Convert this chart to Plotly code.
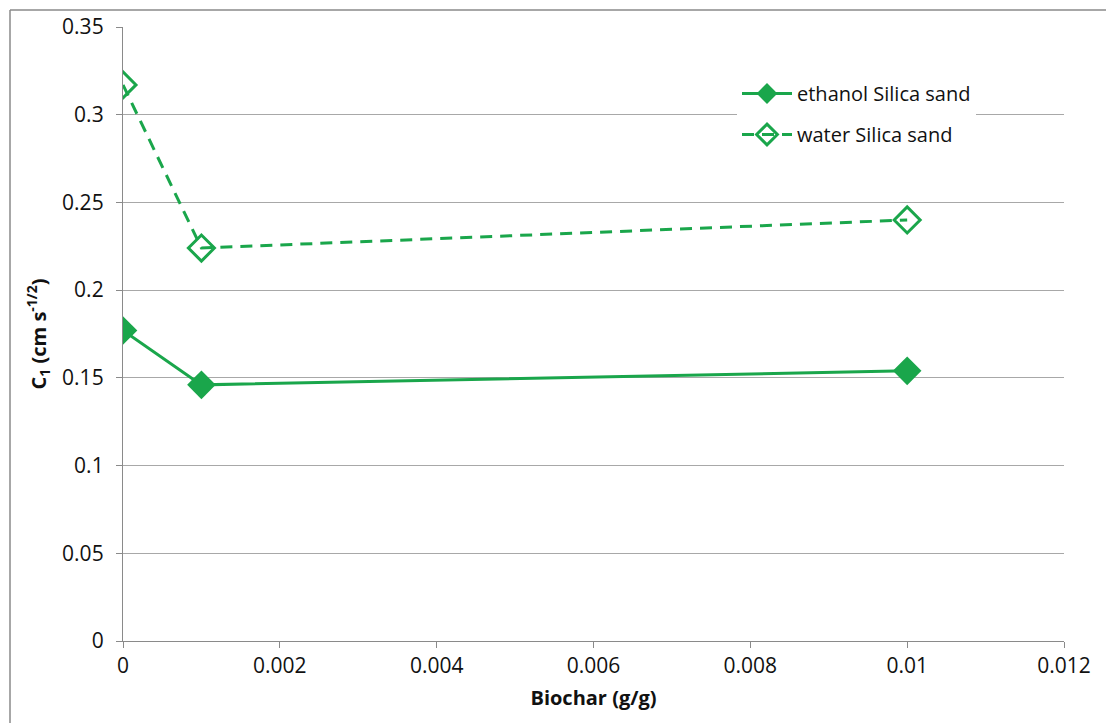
import plotly.graph_objects as go

# Data
biochar = [0, 0.001, 0.01]
ethanol_c1 = [0.177, 0.146, 0.154]
water_c1 = [0.317, 0.224, 0.240]

x_tickvals = [0, 0.002, 0.004, 0.006, 0.008, 0.01, 0.012]
x_ticktext = ["0", "0.002", "0.004", "0.006", "0.008", "0.01", "0.012"]
y_tickvals = [0, 0.05, 0.1, 0.15, 0.2, 0.25, 0.3, 0.35]
y_ticktext = ["0", "0.05", "0.1", "0.15", "0.2", "0.25", "0.3", "0.35"]

GREEN = "#1aa64b"
AXIS = "#8a8a8a"
GRID = "#a8a8a8"
FONT = "Open Sans, Lato, sans-serif"
TXT = "#111111"

fig = go.Figure()
fig.add_trace(go.Scatter(
    x=biochar, y=ethanol_c1, name="ethanol Silica sand",
    mode="lines+markers", legendgroup="a",
    line=dict(color=GREEN, width=3),
    marker=dict(symbol="diamond", size=22, color=GREEN, line=dict(width=0)),
))
fig.add_trace(go.Scatter(
    x=biochar, y=water_c1, name="water Silica sand",
    mode="lines+markers", legendgroup="b",
    line=dict(color=GREEN, width=3, dash="12px,8px"),
    marker=dict(symbol="diamond-open", size=20, color=GREEN, line=dict(width=3, color=GREEN)),
))

W, H = 1106, 723
L, R, T, B = 123, 42, 27, 82
pw, ph = W - L - R, H - T - B

def px(xpix):
    return (xpix - L) / pw

def py(ypix):
    return (H - B - ypix) / ph

fig.update_layout(
    width=W, height=H,
    margin=dict(l=L, r=R, t=T, b=B),
    paper_bgcolor="white", plot_bgcolor="white",
    font=dict(family=FONT, size=21, color=TXT),
    showlegend=True,
    legend=dict(
        x=px(737), y=py(74), xanchor="left", yanchor="top",
        bgcolor="white", font=dict(size=20, color=TXT),
        tracegroupgap=12, itemwidth=50,
    ),
    xaxis=dict(
        range=[0, 0.012], tickvals=x_tickvals, ticktext=x_ticktext,
        showgrid=False, zeroline=False,
        showline=True, linecolor=AXIS, linewidth=1.3,
        ticks="outside", ticklen=6, tickcolor=AXIS, tickwidth=1.3,
        tickfont=dict(size=21, family=FONT, color=TXT),
        title=dict(text="<b>Biochar (g/g)</b>", font=dict(size=20, family=FONT, color=TXT), standoff=12),
    ),
    yaxis=dict(
        range=[0, 0.35], tickvals=y_tickvals, ticktext=y_ticktext,
        showgrid=True, gridcolor=GRID, gridwidth=1.3, zeroline=False,
        showline=True, linecolor=AXIS, linewidth=1.3,
        ticks="outside", ticklen=6, tickcolor=AXIS, tickwidth=1.3,
        ticklabelstandoff=8,
        tickfont=dict(size=21, family=FONT, color=TXT),
        title=dict(text="<b>C<sub>1</sub> (cm s<sup>-1/2</sup>)</b>", font=dict(size=20, family=FONT, color=TXT), standoff=10),
    ),
)

# outer chart border (top and left visible)
fig.add_shape(type="line", xref="paper", yref="paper",
              x0=px(10), x1=px(W + 5), y0=py(10), y1=py(10),
              line=dict(color=AXIS, width=1.5))
fig.add_shape(type="line", xref="paper", yref="paper",
              x0=px(10), x1=px(10), y0=py(10), y1=py(H + 5),
              line=dict(color=AXIS, width=1.5))

fig.write_html("out.html")
